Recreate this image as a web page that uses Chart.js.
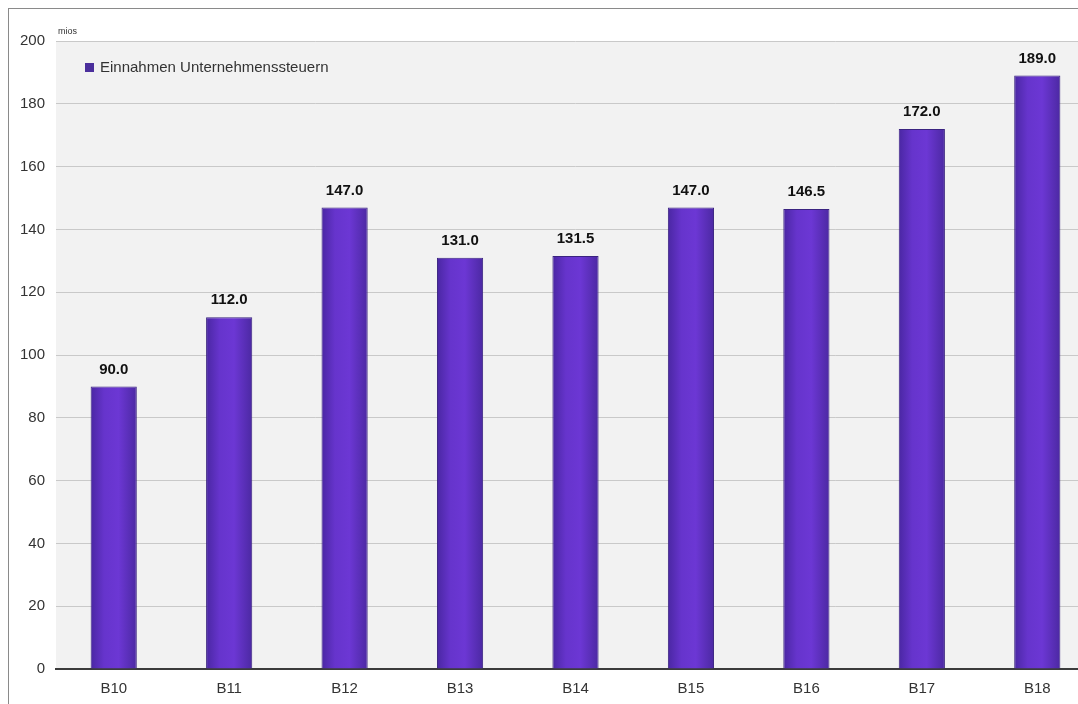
<!DOCTYPE html>
<html>
<head>
<meta charset="utf-8">
<script src="https://cdn.jsdelivr.net/npm/chart.js@4/dist/chart.umd.min.js"></script>
<style>
  html, body { margin: 0; padding: 0; background: #fff; overflow: hidden; }
  #wrap { position: relative; width: 1078px; height: 704px; overflow: hidden; }
  #frame { position: absolute; left: 8px; top: 8px; width: 1100px; height: 720px;
           border-top: 1px solid #8a8a8a; border-left: 1px solid #8a8a8a; }
  #box { position: absolute; left: 0; top: 0; width: 1100px; height: 704px; }
</style>
</head>
<body>
<div id="wrap">
  <div id="frame"></div>
  <div id="box"><canvas id="chart"></canvas></div>
</div>
<script>
const categories = ['B10', 'B11', 'B12', 'B13', 'B14', 'B15', 'B16', 'B17', 'B18'];
const revenue = [90.0, 112.0, 147.0, 131.0, 131.5, 147.0, 146.5, 172.0, 189.0];
const seriesName = 'Einnahmen Unternehmenssteuern';
const unitLabel = 'mios';

const FONT = '"Liberation Sans", Arial, sans-serif';

// horizontal shading so the bars look a bit rounded
function barFill(context) {
  const chart = context.chart;
  const x = chart.scales && chart.scales.x;
  if (!x || !chart.chartArea) return '#6634c8';
  const cx = x.getPixelForValue(context.dataIndex);
  const half = 24;
  const g = chart.ctx.createLinearGradient(cx - half, 0, cx + half, 0);
  g.addColorStop(0, '#4826a0');
  g.addColorStop(0.3, '#6634cc');
  g.addColorStop(0.6, '#6c37d4');
  g.addColorStop(1, '#4a28a0');
  return g;
}

const plotBackground = {
  id: 'plotBackground',
  beforeDraw(chart) {
    const { ctx, chartArea } = chart;
    ctx.save();
    ctx.fillStyle = '#f2f2f2';
    ctx.fillRect(chartArea.left, chartArea.top, chartArea.right - chartArea.left, chartArea.bottom - chartArea.top);
    ctx.restore();
  }
};

// value labels, unit text and the small legend inside the plot
const annotations = {
  id: 'annotations',
  afterDatasetsDraw(chart) {
    const { ctx, chartArea } = chart;
    const meta = chart.getDatasetMeta(0);
    ctx.save();
    ctx.font = 'bold 15px ' + FONT;
    ctx.fillStyle = '#111';
    ctx.textAlign = 'center';
    ctx.textBaseline = 'middle';
    meta.data.forEach((bar, i) => {
      ctx.fillText(revenue[i].toFixed(1), bar.x, bar.y - 17);
    });

    ctx.font = '9px ' + FONT;
    ctx.fillStyle = '#333';
    ctx.textAlign = 'left';
    ctx.textBaseline = 'alphabetic';
    ctx.fillText(unitLabel, chartArea.left + 2, chartArea.top - 7);

    const lx = chartArea.left + 29;
    const ly = chartArea.top + 22;
    ctx.fillStyle = '#4b2f9c';
    ctx.fillRect(lx, ly, 9, 9);
    ctx.font = '15px ' + FONT;
    ctx.fillStyle = '#333';
    ctx.textBaseline = 'middle';
    ctx.fillText(seriesName, lx + 15, ly + 5);
    ctx.restore();
  }
};

new Chart(document.getElementById('chart'), {
  type: 'bar',
  data: {
    labels: categories,
    datasets: [{
      label: seriesName,
      data: revenue,
      backgroundColor: barFill,
      borderColor: '#3a2380',
      borderWidth: 1,
      borderSkipped: 'bottom',
      barPercentage: 0.4,
      categoryPercentage: 1.0
    }]
  },
  options: {
    responsive: true,
    maintainAspectRatio: false,
    animation: false,
    layout: { padding: { top: 41, right: 5, bottom: 0, left: 0 } },
    scales: {
      x: {
        grid: { display: false, drawTicks: false },
        border: { color: '#3c3c3c', width: 2 },
        ticks: { color: '#333', font: { family: FONT, size: 15 }, padding: 11 },
        afterFit(scale) { scale.height = 35; }
      },
      y: {
        min: 0,
        max: 200,
        ticks: { stepSize: 20, color: '#333', font: { family: FONT, size: 15 }, padding: 11 },
        grid: { color: '#c9c9c9', drawTicks: false },
        border: { display: false },
        afterFit(scale) { scale.width = 56; }
      }
    },
    plugins: {
      legend: { display: false },
      tooltip: { enabled: false }
    }
  },
  plugins: [plotBackground, annotations]
});
</script>
</body>
</html>
